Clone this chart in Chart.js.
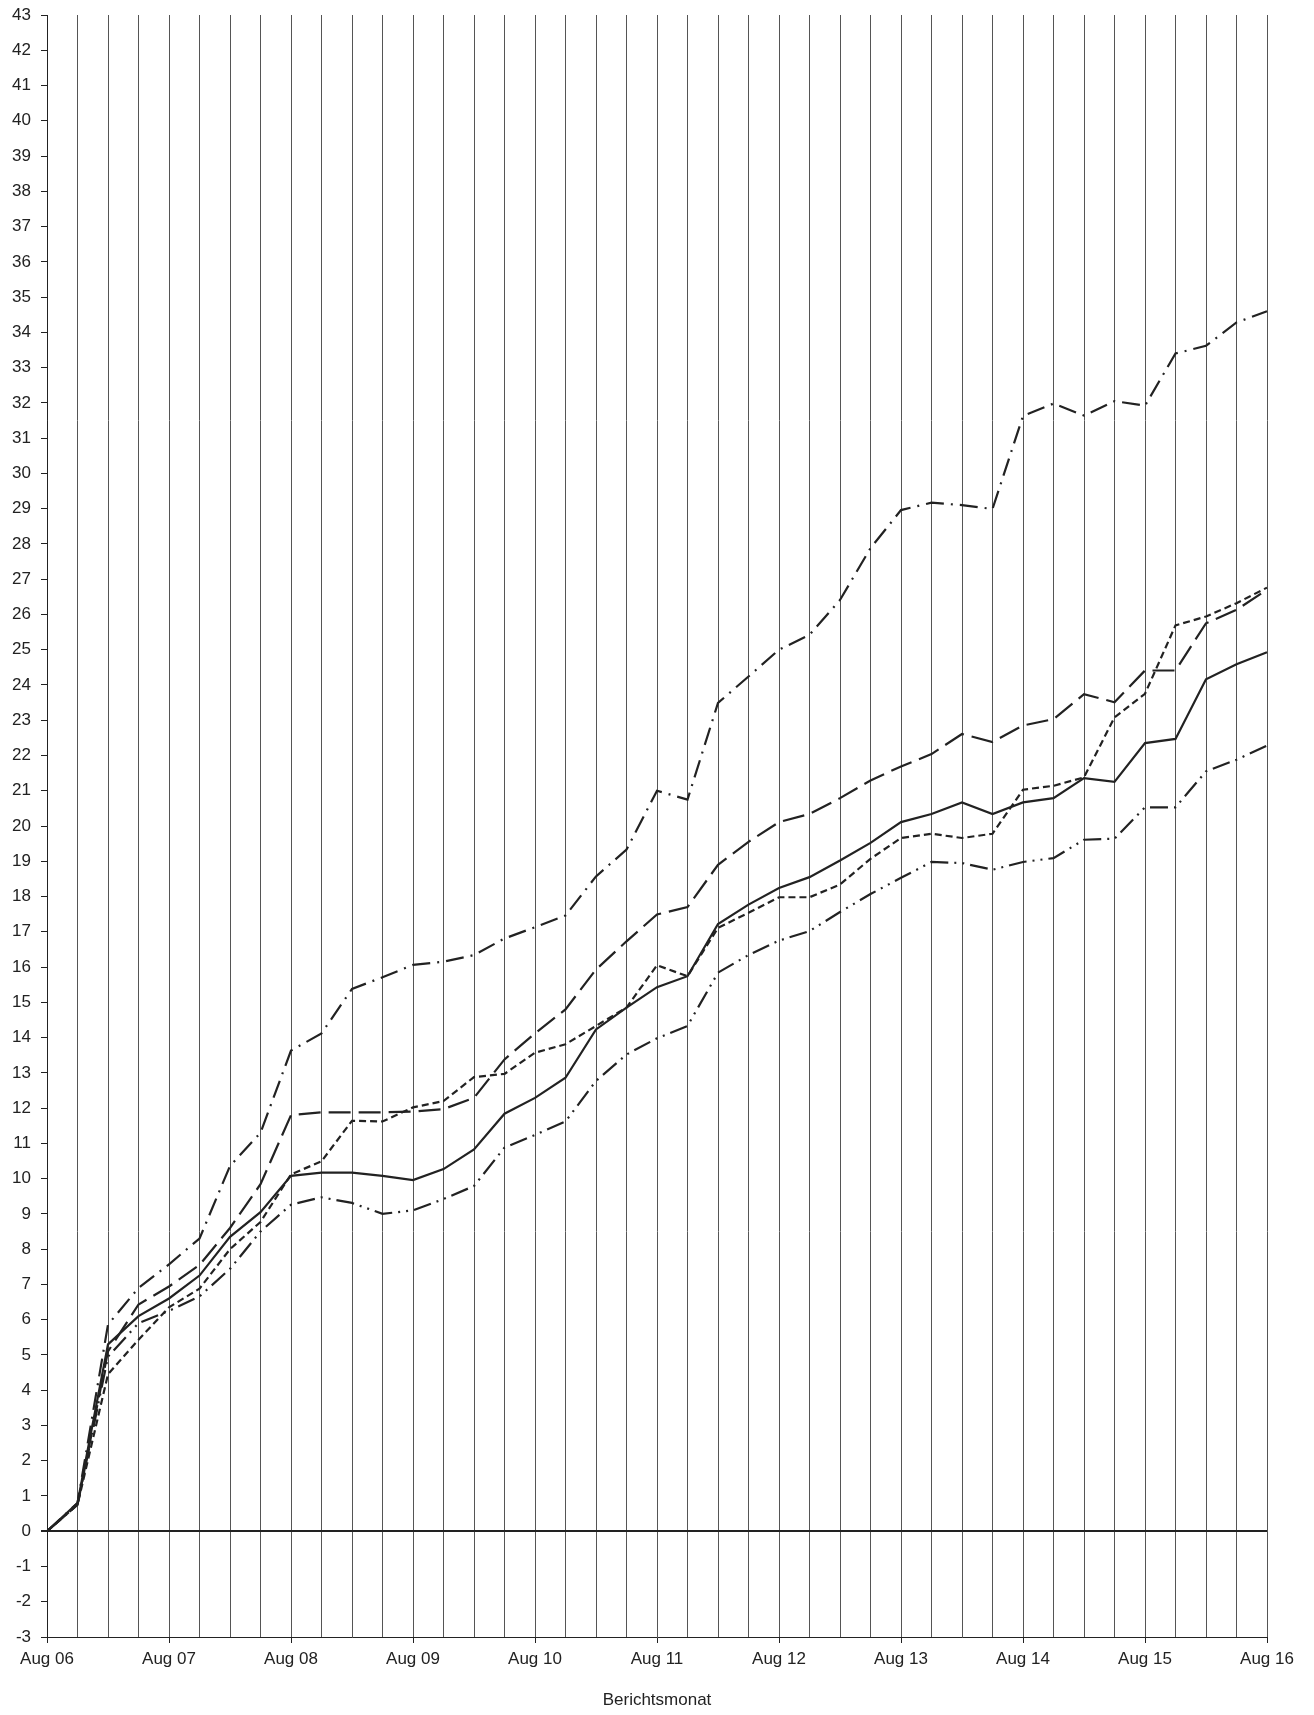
<!DOCTYPE html>
<html>
<head>
<meta charset="utf-8">
<script src="https://cdn.jsdelivr.net/npm/chart.js@4/dist/chart.umd.min.js"></script>
<style>
  html, body { margin: 0; padding: 0; background: #fff; }
  #wrap { width: 1314px; height: 1715px; }
</style>
</head>
<body>
<div id="wrap"><canvas id="lineChart"></canvas></div>
<script>
// Berichtsmonate (quartalsweise)
var months = [
    "Aug 06", "Nov 06", "Feb 07", "Mai 07",
    "Aug 07", "Nov 07", "Feb 08", "Mai 08",
    "Aug 08", "Nov 08", "Feb 09", "Mai 09",
    "Aug 09", "Nov 09", "Feb 10", "Mai 10",
    "Aug 10", "Nov 10", "Feb 11", "Mai 11",
    "Aug 11", "Nov 11", "Feb 12", "Mai 12",
    "Aug 12", "Nov 12", "Feb 13", "Mai 13",
    "Aug 13", "Nov 13", "Feb 14", "Mai 14",
    "Aug 14", "Nov 14", "Feb 15", "Mai 15",
    "Aug 15", "Nov 15", "Feb 16", "Mai 16",
    "Aug 16"
];

var solid = [0, 0.8, 5.3, 6.1, 6.6, 7.25, 8.35, 9.05, 10.08, 10.17, 10.17, 10.08, 9.96, 10.27,
    10.83, 11.84, 12.29, 12.86, 14.23, 14.85, 15.43, 15.74, 17.22, 17.77, 18.24, 18.55, 19.02,
    19.52, 20.11, 20.34, 20.67, 20.34, 20.67, 20.79, 21.36, 21.25, 22.35, 22.47, 24.16, 24.59, 24.93];

var longDash = [0, 0.75, 5.1, 6.43, 6.94, 7.55, 8.6, 9.84, 11.8, 11.88, 11.88, 11.88, 11.9, 11.97,
    12.29, 13.38, 14.12, 14.8, 15.93, 16.73, 17.49, 17.7, 18.9, 19.55, 20.11, 20.34, 20.79,
    21.29, 21.69, 22.04, 22.61, 22.38, 22.85, 23.03, 23.74, 23.51, 24.41, 24.41, 25.75, 26.13, 26.7];

var shortDash = [0, 0.75, 4.45, 5.43, 6.35, 6.88, 8.0, 8.77, 10.12, 10.49, 11.64, 11.62, 12.02, 12.2,
    12.88, 12.97, 13.57, 13.81, 14.33, 14.85, 16.05, 15.74, 17.11, 17.54, 17.98, 17.98, 18.34,
    19.07, 19.66, 19.78, 19.66, 19.78, 21.03, 21.14, 21.38, 23.08, 23.75, 25.69, 25.94, 26.32, 26.76];

var dashDot = [0, 0.8, 5.86, 6.9, 7.57, 8.3, 10.36, 11.3, 13.63, 14.12, 15.38, 15.71, 16.06, 16.15,
    16.34, 16.81, 17.13, 17.46, 18.57, 19.33, 21.0, 20.75, 23.49, 24.24, 25.0, 25.42, 26.41,
    27.88, 28.96, 29.17, 29.1, 28.99, 31.63, 31.98, 31.64, 32.05, 31.92, 33.4, 33.62, 34.28, 34.6];

var dashDotDot = [0, 0.75, 4.95, 5.9, 6.25, 6.66, 7.44, 8.5, 9.26, 9.47, 9.31, 9.0, 9.1, 9.42,
    9.79, 10.88, 11.24, 11.62, 12.77, 13.52, 13.98, 14.33, 15.84, 16.34, 16.75, 17.02, 17.56,
    18.07, 18.53, 18.98, 18.95, 18.76, 18.98, 19.09, 19.61, 19.64, 20.53, 20.53, 21.55, 21.88, 22.28];

var lineColor = "#222222";
var clear = "rgba(0,0,0,0)";

function series(label, values, dash) {
    return {
        label: label,
        data: values,
        borderColor: lineColor,
        borderWidth: 2.2,
        borderDash: dash,
        borderCapStyle: "butt",
        borderJoinStyle: "miter",
        pointRadius: 0,
        tension: 0,
        fill: false
    };
}

var data = {
    labels: months,
    datasets: [
        series("Reihe 1", solid, []),
        series("Reihe 2", longDash, [22, 8]),
        series("Reihe 3", shortDash, [7, 4]),
        series("Reihe 4", dashDot, [18, 7, 2, 7]),
        series("Reihe 5", dashDotDot, [18, 6, 2, 6, 2, 6])
    ]
};

Chart.defaults.font.family = "'Liberation Sans', Arial, sans-serif";
Chart.defaults.font.size = 17;
Chart.defaults.color = "#222";

var options = {
    responsive: true,
    maintainAspectRatio: false,
    animation: false,
    layout: { padding: { top: 15, right: 47, bottom: 0, left: 0 } },
    plugins: {
        legend: { display: false },
        tooltip: { enabled: false }
    },
    scales: {
        x: {
            offset: false,
            border: { display: true, color: "#222", width: 1 },
            grid: {
                color: "#555",
                lineWidth: 1,
                tickLength: 6,
                tickColor: function (ctx) { return ctx.index % 4 === 0 ? "#222" : clear; }
            },
            ticks: {
                autoSkip: false,
                maxRotation: 0,
                padding: 6,
                callback: function (val, idx) {
                    return idx % 4 === 0 ? this.getLabelForValue(val) : "";
                }
            },
            title: {
                display: true,
                text: "Berichtsmonat",
                padding: { top: 0, bottom: 4 }
            },
            afterFit: function (scale) { scale.height = 78; }
        },
        y: {
            min: -3,
            max: 43,
            border: { display: true, color: "#222", width: 1 },
            grid: {
                color: function (ctx) { return ctx.tick && ctx.tick.value === 0 ? "#222" : clear; },
                lineWidth: function (ctx) { return ctx.tick && ctx.tick.value === 0 ? 2 : 1; },
                tickLength: 6,
                tickColor: "#222"
            },
            ticks: {
                stepSize: 1,
                autoSkip: false,
                padding: 10,
                font: { lineHeight: 1 }
            },
            afterFit: function (scale) {
                scale.width = 47;
                scale.paddingTop = 0;
            }
        }
    }
};

var lineChart = new Chart(document.getElementById("lineChart"), {
    type: "line",
    data: data,
    options: options
});
</script>
</body>
</html>
